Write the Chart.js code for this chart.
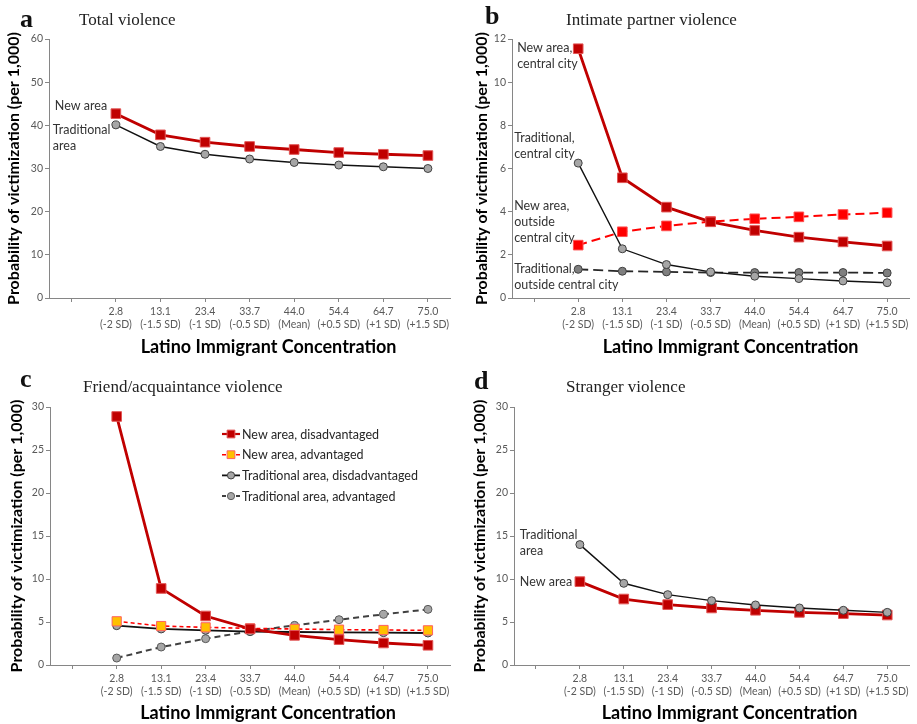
<!DOCTYPE html>
<html><head><meta charset="utf-8">
<script src="https://cdn.jsdelivr.net/npm/chart.js@4/dist/chart.umd.min.js"></script>
<style>
html,body{margin:0;padding:0;background:#fff;}
#wrap{position:relative;width:917px;height:724px;overflow:hidden;}
canvas{position:absolute;}
</style></head><body>
<div id="wrap">
<canvas id="ca" width="458" height="362" style="left:0;top:0"></canvas>
<canvas id="cb" width="459" height="362" style="left:458px;top:0"></canvas>
<canvas id="cc" width="458" height="364" style="left:0;top:360px"></canvas>
<canvas id="cd" width="459" height="364" style="left:458px;top:360px"></canvas>
</div>
<script>
// ---------- data ----------
const concentration = ['2.8','13.1','23.4','33.7','44.0','54.4','64.7','75.0'];
const sdLabels = ['(-2 SD)','(-1.5 SD)','(-1 SD)','(-0.5 SD)','(Mean)','(+0.5 SD)','(+1 SD)','(+1.5 SD)'];
// a: Total violence
const totalNew  = [42.7,37.8,36.1,35.1,34.4,33.7,33.3,33.0];
const totalTrad = [40.1,35.1,33.3,32.2,31.4,30.8,30.4,30.0];
// b: Intimate partner violence
const ipvNewCentral  = [11.55,5.57,4.21,3.53,3.13,2.82,2.60,2.41];
const ipvNewOutside  = [2.45,3.07,3.34,3.54,3.67,3.76,3.87,3.95];
const ipvTradCentral = [6.25,2.28,1.55,1.21,1.01,0.90,0.79,0.71];
const ipvTradOutside = [1.33,1.24,1.21,1.18,1.18,1.18,1.18,1.16];
// c: Friend/acquaintance violence
const friendNewDis  = [28.9,8.9,5.7,4.2,3.45,2.95,2.56,2.29];
const friendNewAdv  = [5.08,4.53,4.38,4.26,4.19,4.11,4.07,4.03];
const friendTradDis = [4.57,4.19,4.03,3.88,3.84,3.80,3.76,3.72];
const friendTradAdv = [0.81,2.09,3.06,3.91,4.61,5.27,5.89,6.47];
// d: Stranger violence
const strangerTrad = [14.0,9.5,8.18,7.48,6.98,6.63,6.36,6.12];
const strangerNew  = [9.69,7.67,7.02,6.63,6.36,6.12,5.97,5.81];

const yTitle = 'Probability of victimization (per 1,000)';
const xTitle = 'Latino Immigrant Concentration';

// ---------- helpers ----------
const labels = [''].concat(concentration.map((c,i)=>[c, sdLabels[i]]));
const pad = v => [null].concat(v);

const styles = {
  redSolid:  {borderColor:'#C00000', borderWidth:2.8, pointStyle:'rect', pointRadius:6.8, pointBackgroundColor:'#C00000', pointBorderColor:'#E25555', pointBorderWidth:1},
  redDash:   {borderColor:'#FF0000', borderWidth:2, borderDash:[9,5], pointStyle:'rect', pointRadius:6.8, pointBackgroundColor:'#FF0000', pointBorderColor:'#FF5050', pointBorderWidth:1},
  redDashThin:{borderColor:'#FF0000', borderWidth:1.6, borderDash:[4,3], pointStyle:'rect', pointRadius:6.5, pointBackgroundColor:'#FFC000', pointBorderColor:'#FF6060', pointBorderWidth:1},
  blackSolid:{borderColor:'#111111', borderWidth:1.4, pointStyle:'circle', pointRadius:4, pointBackgroundColor:'#A6A6A6', pointBorderColor:'#404040', pointBorderWidth:1},
  blackSolid2:{borderColor:'#111111', borderWidth:1.8, pointStyle:'circle', pointRadius:4, pointBackgroundColor:'#A6A6A6', pointBorderColor:'#404040', pointBorderWidth:1},
  blackDash: {borderColor:'#262626', borderWidth:1.8, borderDash:[10,5], pointStyle:'circle', pointRadius:4, pointBackgroundColor:'#7F7F7F', pointBorderColor:'#404040', pointBorderWidth:1},
  grayDash:  {borderColor:'#404040', borderWidth:2, borderDash:[6,4], pointStyle:'circle', pointRadius:4, pointBackgroundColor:'#A6A6A6', pointBorderColor:'#595959', pointBorderWidth:1}
};
function ds(label, values, style){
  return Object.assign({label, data: pad(values), tension:0, fill:false, pointHoverRadius: style.pointRadius}, style);
}

const FONT = 'Lato';
const decor = {
  id:'decor',
  afterDraw(chart, args, o){
    const ctx = chart.ctx, ca = chart.chartArea;
    ctx.save();
    ctx.textAlign='left'; ctx.textBaseline='alphabetic';
    ctx.fillStyle='#111'; ctx.font='bold 26px "Liberation Serif"';
    ctx.fillText(o.letter, o.letterX, o.letterY);
    ctx.fillStyle='#222'; ctx.font='17px "Liberation Serif"';
    ctx.fillText(o.title, o.titleX, o.titleY);
    ctx.fillStyle='#000'; ctx.font='bold 18px '+FONT; ctx.textAlign='center'; ctx.textBaseline='middle';
    ctx.fillText(xTitle, (ca.left+ca.right)/2 + o.xTitleDx, o.xTitleY);
    ctx.textAlign='left'; ctx.fillStyle='#333'; ctx.font='12.5px '+FONT;
    (o.notes||[]).forEach(n=>{
      const p = chart.getDatasetMeta(n.ds).data[1];
      n.lines.forEach((t,i)=>ctx.fillText(t, p.x+n.dx, p.y+n.dy+i*16));
    });
    if (o.legend){
      const L=o.legend;
      chart.data.datasets.forEach((d,i)=>{
        const y = ca.top + L.dy + i*L.gap, x = ca.left + L.dx;
        ctx.save();
        ctx.strokeStyle=d.borderColor; ctx.lineWidth=Math.min(d.borderWidth,2.2);
        ctx.setLineDash(d.borderDash ? [4,3] : []);
        ctx.beginPath(); ctx.moveTo(x,y); ctx.lineTo(x+18,y); ctx.stroke();
        ctx.setLineDash([]);
        ctx.fillStyle=d.pointBackgroundColor; ctx.strokeStyle=d.pointBorderColor; ctx.lineWidth=1;
        Chart.helpers.drawPoint(ctx,{pointStyle:d.pointStyle, radius: d.pointStyle==='rect'?5.5:3.6, rotation:0, borderWidth:1}, x+9, y);
        ctx.restore();
        ctx.fillStyle='#262626'; ctx.font='12.5px '+FONT; ctx.textBaseline='middle';
        ctx.fillText(d.label, x+20, y+0.5);
      });
    }
    ctx.restore();
  }
};

function makeChart(id, datasets, cfg){
  return new Chart(document.getElementById(id), {
    type:'line',
    data:{labels, datasets},
    options:{
      responsive:false, animation:false, devicePixelRatio:1,
      layout:{padding:{left:0, top:cfg.top, right:cfg.right, bottom:0}},
      plugins:{legend:{display:false}, tooltip:{enabled:false}, decor:cfg.decor},
      scales:{
        x:{
          offset:true,
          ticks:{color:'#595959', font:{size:10.5, family:FONT, lineHeight:1.25}, padding:3, maxRotation:0, autoSkip:false},
          grid:{drawOnChartArea:false, drawTicks:true, tickLength:4, color:'#868686', offset:false},
          border:{color:'#868686', width:1},
          afterFit(s){ s.height = cfg.xh; s.paddingLeft=0; s.paddingRight=0; }
        },
        y:{
          min:0, max:cfg.ymax,
          ticks:{stepSize:cfg.step, color:'#595959', font:{size:10.5, family:FONT}, padding:2},
          grid:{drawOnChartArea:false, drawTicks:true, tickLength:4, color:'#868686'},
          border:{color:'#868686', width:1},
          title:{display:true, text:yTitle, color:'#000', font:{size:16, weight:'bold', family:FONT, lineHeight:1.2}, padding:{top:cfg.ytp, bottom:0}},
          afterFit(s){ s.width = cfg.yw; s.paddingTop=0; s.paddingBottom=0; }
        }
      }
    },
    plugins:[decor]
  });
}

makeChart('ca', [
  ds('New area', totalNew, styles.redSolid),
  ds('Traditional area', totalTrad, styles.blackSolid)
], {top:39, right:7, xh:64, ymax:60, step:10, yw:49, ytp:4,
  decor:{letter:'a', letterX:20, letterY:27, title:'Total violence', titleX:79, titleY:25, xTitleDx:19, xTitleY:347,
    notes:[{ds:0, lines:['New area'], dx:-61, dy:-8},{ds:1, lines:['Traditional','area'], dx:-63, dy:5}]}});

makeChart('cb', [
  ds('New area, central city', ipvNewCentral, styles.redSolid),
  ds('New area, outside central city', ipvNewOutside, styles.redDash),
  ds('Traditional, central city', ipvTradCentral, styles.blackSolid),
  ds('Traditional, outside central city', ipvTradOutside, styles.blackDash)
], {top:39, right:4, xh:64, ymax:12, step:2, yw:54, ytp:14,
  decor:{letter:'b', letterX:27, letterY:24, title:'Intimate partner violence', titleX:108, titleY:25, xTitleDx:20, xTitleY:347,
    notes:[{ds:0, lines:['New area,','central city'], dx:-61, dy:-1},
           {ds:2, lines:['Traditional,','central city'], dx:-64, dy:-25},
           {ds:1, lines:['New area,','outside','central city'], dx:-64, dy:-39},
           {ds:3, lines:['Traditional,','outside central city'], dx:-64, dy:0}]}});

makeChart('cc', [
  ds('New area, disadvantaged', friendNewDis, styles.redSolid),
  ds('New area, advantaged', friendNewAdv, styles.redDashThin),
  ds('Traditional area, disdadvantaged', friendTradDis, styles.blackSolid2),
  ds('Traditional area, advantaged', friendTradAdv, styles.grayDash)
], {top:47, right:7, xh:59, ymax:30, step:5, yw:50, ytp:7,
  decor:{letter:'c', letterX:20, letterY:27, title:'Friend/acquaintance violence', titleX:83, titleY:32, xTitleDx:18, xTitleY:353,
    legend:{dx:172, dy:27, gap:20.7}}});

makeChart('cd', [
  ds('Traditional area', strangerTrad, styles.blackSolid),
  ds('New area', strangerNew, styles.redSolid)
], {top:47, right:3, xh:59, ymax:30, step:5, yw:56, ytp:12,
  decor:{letter:'d', letterX:16, letterY:29, title:'Stranger violence', titleX:108, titleY:32, xTitleDx:18, xTitleY:353,
    notes:[{ds:0, lines:['Traditional','area'], dx:-60, dy:-10},{ds:1, lines:['New area'], dx:-60, dy:0}]}});
</script>
</body></html>
